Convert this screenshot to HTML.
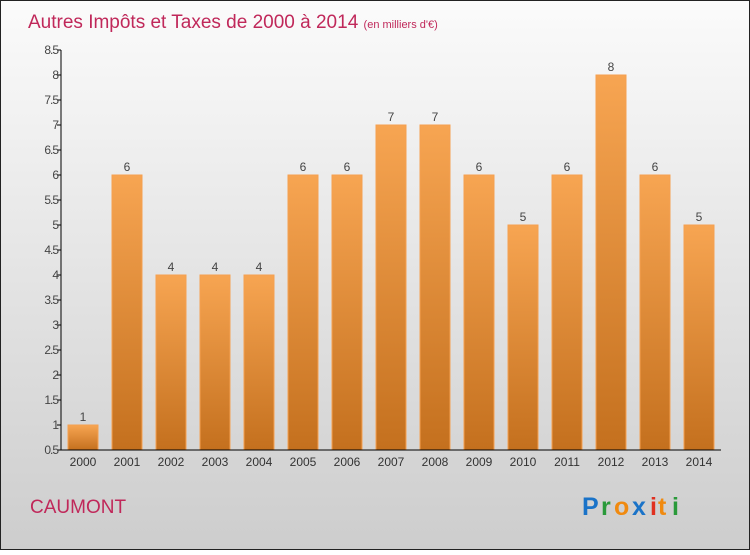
<!DOCTYPE html>
<html><head><meta charset="utf-8"><style>
body{margin:0;width:750px;height:550px;overflow:hidden}
</style></head><body>
<svg width="750" height="550" xmlns="http://www.w3.org/2000/svg">
<defs>
<linearGradient id="bg" x1="0" y1="0" x2="0" y2="1"><stop offset="0" stop-color="#fbfbfb"/><stop offset="1" stop-color="#cdcdcd"/></linearGradient>
<linearGradient id="bar" x1="0" y1="0" x2="0" y2="1"><stop offset="0" stop-color="#f7a552"/><stop offset="1" stop-color="#c4701e"/></linearGradient>
</defs>
<rect x="0.5" y="0.5" width="749" height="549" fill="url(#bg)" stroke="#222"/>
<text x="28" y="28" font-family="Liberation Sans, sans-serif" font-size="19" fill="#c0285a">Autres Impôts et Taxes de 2000 à 2014 <tspan font-size="11">(en milliers d'€)</tspan></text>
<g id="plot"></g>
<text x="30" y="513" font-family="Liberation Sans, sans-serif" font-size="19" fill="#c0285a">CAUMONT</text>
<g font-family="Liberation Sans, sans-serif" font-size="25" font-weight="bold">
<text x="582" y="515" fill="#1a73c8">P</text><text x="601" y="515" fill="#2a9a3a">r</text><text x="614" y="515" fill="#f08a10">o</text><text x="632" y="515" fill="#1a73c8">x</text><text x="650" y="515" fill="#e03020">i</text><text x="658" y="515" fill="#f08a10">t</text><text x="672" y="515" fill="#2a9a3a">i</text>
</g>
</svg>
<script>
const categories=["2000","2001","2002","2003","2004","2005","2006","2007","2008","2009","2010","2011","2012","2013","2014"];
const values=[1,6,4,4,4,6,6,7,7,6,5,6,8,6,5];
const yTicks=[0.5,1,1.5,2,2.5,3,3.5,4,4.5,5,5.5,6,6.5,7,7.5,8,8.5];
const yTickLabels=["0.5","1","1.5","2","2.5","3","3.5","4","4.5","5","5.5","6","6.5","7","7.5","8","8.5"];
const NS="http://www.w3.org/2000/svg";
const g=document.getElementById('plot');
const x0=61,x1=721,yMin=0.5,yMax=8.5,yT=50,yB=450;
const y=v=>yB-(v-yMin)/(yMax-yMin)*(yB-yT);
const band=(x1-x0)/categories.length;
const xc=i=>x0+band*(i+0.5);
function el(t,a){const e=document.createElementNS(NS,t);for(const k in a)e.setAttribute(k,a[k]);g.appendChild(e);return e;}
values.forEach((v,i)=>{
 const r=el('rect',{x:xc(i)-15,y:y(v),width:30,height:yB-y(v),fill:'url(#bar)',stroke:'#f5a050','stroke-width':1});
 
 
 const t=el('text',{x:xc(i),y:y(v)-4,'text-anchor':'middle','font-family':'Liberation Sans, sans-serif','font-size':12,fill:'#444'});
 t.textContent=v;
 
 
 const c=el('text',{x:xc(i),y:yB+16,'text-anchor':'middle','font-family':'Liberation Sans, sans-serif','font-size':12,fill:'#333'});
 c.textContent=categories[i];
 
 
});
yTicks.forEach((v,i)=>{
 const l=el('line',{x1:x0-4,x2:x0,y1:y(v),y2:y(v),stroke:'#000'});
 
 
 const t=el('text',{x:x0-3,y:y(v)+4,'text-anchor':'end','font-family':'Liberation Sans, sans-serif','font-size':12,fill:'#444','letter-spacing':'-1'});
 t.textContent=yTickLabels[i];
 
 
});
const ya=el('line',{x1:x0,x2:x0,y1:yT,y2:yB,stroke:'#000'});


const xa=el('line',{x1:x0,x2:x1,y1:yB,y2:yB,stroke:'#000'});


</script>
</body></html>
